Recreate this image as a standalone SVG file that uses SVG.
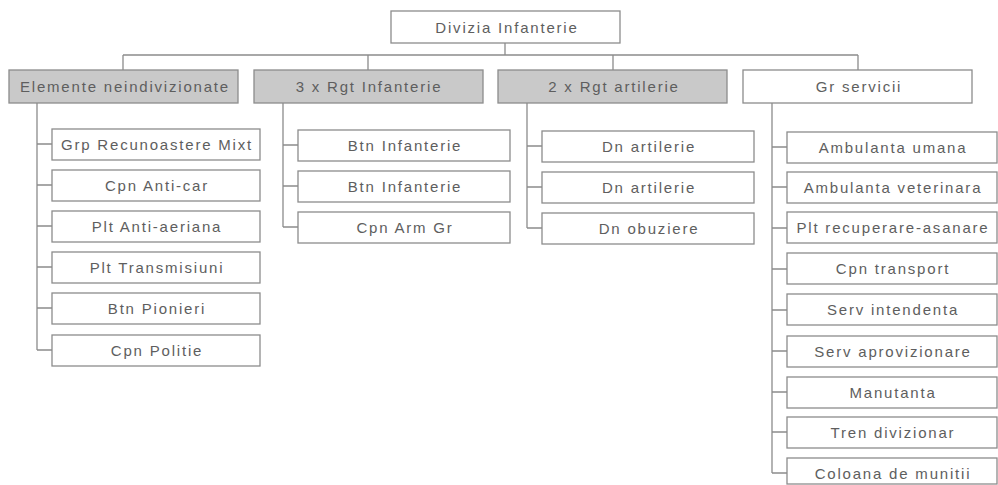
<svg xmlns="http://www.w3.org/2000/svg" width="998" height="485" viewBox="0 0 998 485">
<style>
.box{fill:#ffffff;stroke:#8c8c8c;stroke-width:1.3}
.shade{fill:#c9c9c9;stroke:#8c8c8c;stroke-width:1.3}
.t{font-family:"Liberation Sans",Arial,sans-serif;font-size:15px;fill:#5e5e5e;text-anchor:middle;dominant-baseline:central;letter-spacing:1.8px}
.c{fill:none;stroke:#8c8c8c;stroke-width:1.3}
</style>
<rect width="998" height="485" fill="#ffffff"/>
<g id="connectors">
<path class="c" d="M505 43V55M123 55H858M123 55V70M368 55V70M613 55V70M858 55V70"/>
<path class="c" d="M37 103V350M37 144H52M37 185H52M37 226H52M37 267H52M37 308H52M37 350H52"/>
<path class="c" d="M283 103V227M283 145H298M283 186H298M283 227H298"/>
<path class="c" d="M527 103V228M527 146H542M527 187H542M527 228H542"/>
<path class="c" d="M772 103V473M772 147H787M772 187H787M772 228H787M772 269H787M772 310H787M772 351H787M772 392H787M772 432H787M772 473H787"/>
</g>
<g id="n-divizia"><rect class="box" x="391" y="11" width="229" height="32"/><text class="t" x="507" y="27">Divizia Infanterie</text></g>
<g id="n-elemente"><rect class="shade" x="9" y="70" width="229" height="33"/><text class="t" x="125" y="86">Elemente neindivizionate</text></g>
<g id="n-rgt-inf"><rect class="shade" x="254" y="70" width="229" height="33"/><text class="t" x="369" y="86">3 x Rgt Infanterie</text></g>
<g id="n-rgt-art"><rect class="shade" x="498" y="70" width="229" height="33"/><text class="t" x="614" y="86">2 x Rgt artilerie</text></g>
<g id="n-gr-servicii"><rect class="box" x="743" y="70" width="229" height="33"/><text class="t" x="859" y="86">Gr servicii</text></g>

<g id="n-grp-recunoastere"><rect class="box" x="52" y="129" width="208" height="31"/><text class="t" x="157" y="144.5">Grp Recunoastere Mixt</text></g>
<g id="n-cpn-anticar"><rect class="box" x="52" y="170" width="208" height="31"/><text class="t" x="157" y="185.5">Cpn Anti-car</text></g>
<g id="n-plt-antiaeriana"><rect class="box" x="52" y="211" width="208" height="31"/><text class="t" x="157" y="226.5">Plt Anti-aeriana</text></g>
<g id="n-plt-transmisiuni"><rect class="box" x="52" y="252" width="208" height="31"/><text class="t" x="157" y="267.5">Plt Transmisiuni</text></g>
<g id="n-btn-pionieri"><rect class="box" x="52" y="293" width="208" height="31"/><text class="t" x="157" y="308.5">Btn Pionieri</text></g>
<g id="n-cpn-politie"><rect class="box" x="52" y="335" width="208" height="31"/><text class="t" x="157" y="350.5">Cpn Politie</text></g>

<g id="n-btn-inf-1"><rect class="box" x="298" y="130" width="212" height="31"/><text class="t" x="405" y="145.5">Btn Infanterie</text></g>
<g id="n-btn-inf-2"><rect class="box" x="298" y="171" width="212" height="31"/><text class="t" x="405" y="186.5">Btn Infanterie</text></g>
<g id="n-cpn-arm-gr"><rect class="box" x="298" y="212" width="212" height="31"/><text class="t" x="405" y="227.5">Cpn Arm Gr</text></g>

<g id="n-dn-art-1"><rect class="box" x="542" y="131" width="212" height="31"/><text class="t" x="649" y="146.5">Dn artilerie</text></g>
<g id="n-dn-art-2"><rect class="box" x="542" y="172" width="212" height="31"/><text class="t" x="649" y="187.5">Dn artilerie</text></g>
<g id="n-dn-obuziere"><rect class="box" x="542" y="213" width="212" height="31"/><text class="t" x="649" y="228.5">Dn obuziere</text></g>

<g id="n-ambulanta-umana"><rect class="box" x="787" y="132" width="210" height="31"/><text class="t" x="893" y="147.5">Ambulanta umana</text></g>
<g id="n-ambulanta-veterinara"><rect class="box" x="787" y="172" width="210" height="31"/><text class="t" x="893" y="187.5">Ambulanta veterinara</text></g>
<g id="n-plt-recuperare"><rect class="box" x="787" y="212" width="210" height="31"/><text class="t" x="893" y="227.5">Plt recuperare-asanare</text></g>
<g id="n-cpn-transport"><rect class="box" x="787" y="253" width="210" height="31"/><text class="t" x="893" y="268.5">Cpn transport</text></g>
<g id="n-serv-intendenta"><rect class="box" x="787" y="294" width="210" height="31"/><text class="t" x="893" y="309.5">Serv intendenta</text></g>
<g id="n-serv-aprovizionare"><rect class="box" x="787" y="336" width="210" height="31"/><text class="t" x="893" y="351.5">Serv aprovizionare</text></g>
<g id="n-manutanta"><rect class="box" x="787" y="377" width="210" height="31"/><text class="t" x="893" y="392.5">Manutanta</text></g>
<g id="n-tren-divizionar"><rect class="box" x="787" y="417" width="210" height="31"/><text class="t" x="893" y="432.5">Tren divizionar</text></g>
<g id="n-coloana-munitii"><rect class="box" x="787" y="458" width="210" height="26"/><text class="t" x="893" y="473">Coloana de munitii</text></g>
</svg>
